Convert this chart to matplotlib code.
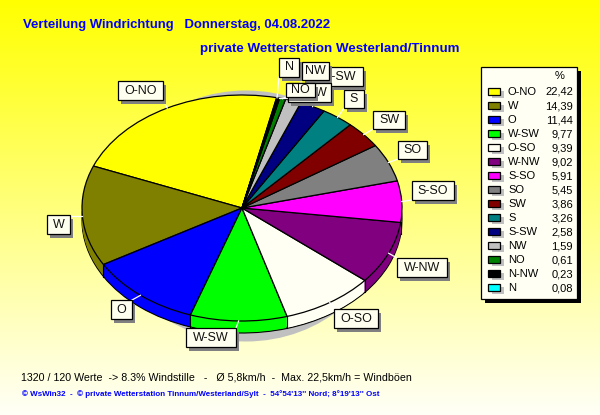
import matplotlib
matplotlib.use('Agg')
import matplotlib.pyplot as plt
from matplotlib.patches import Rectangle, Ellipse
import numpy as np

richtungen = ["O-NO", "W", "O", "W-SW", "O-SO", "W-NW", "S-SO", "SO", "SW", "S", "S-SW", "NW", "NO", "N-NW", "N"]
prozent = [22.42, 14.39, 11.44, 9.77, 9.39, 9.02, 5.91, 5.45, 3.86, 3.26, 2.58, 1.59, 0.61, 0.23, 0.08]
farben = ["#FFFF00", "#808000", "#0000FF", "#00FF00", "#FFFFF4", "#800080", "#FF00FF", "#808080",
          "#800000", "#008080", "#000080", "#C0C0C0", "#008000", "#000000", "#00FFFF"]

# label boxes in pixels: left, top, right, bottom
boxen = {
    "O-NO": (118, 81, 163, 100), "W": (47, 215, 70, 234), "O": (111, 300, 132, 319),
    "W-SW": (186, 328, 236, 347), "O-SO": (334, 309, 378, 328), "W-NW": (397, 258, 447, 277),
    "S-SO": (412, 181, 454, 200), "SO": (398, 141, 427, 159), "SW": (373, 111, 405, 129),
    "S": (344, 90, 364, 108), "S-SW": (316, 67, 363, 86), "NW": (302, 62, 329, 80),
    "N-NW": (288, 83, 331, 102), "NO": (286, 83, 315, 97), "N": (279, 58, 299, 77),
}
reihenfolge = ["O-NO", "W", "O", "W-SW", "O-SO", "W-NW", "S-SO", "SO", "SW", "S", "S-SW", "NW", "N-NW", "NO", "N"]

BREITE, HOEHE = 600, 415
CX, CY, RX, RY = 242, 208, 160, 113
TIEFE = 12
START = 77.5
BLAU = "#0000FF"
FONT = "Liberation Sans"

fig = plt.figure(figsize=(6, 4.15), dpi=100)

# background gradient
bg = fig.add_axes([0, 0, 1, 1])
verlauf = np.linspace(0, 1, HOEHE).reshape(-1, 1)
farbe = np.ones((HOEHE, 1, 3))
farbe[:, :, 2] = verlauf * 0.97
bg.imshow(farbe, aspect='auto', extent=(0, BREITE, HOEHE, 0))
bg.set_xlim(0, BREITE)
bg.set_ylim(HOEHE, 0)
bg.axis('off')

# shadow behind the pie
bg.add_patch(Ellipse((246, 216), 280, 251, facecolor="#C0C0C0", edgecolor='none'))

# pie axes: unit circle stretched to the ellipse
ax = fig.add_axes([0, 0, 1, 1], facecolor='none')
for k in range(TIEFE, 0, -1):
    kante = dict(edgecolor='black', linewidth=0.8) if k == TIEFE else dict(edgecolor='none', linewidth=0)
    ax.pie(prozent, colors=farben, startangle=START, radius=1, center=(0, -k / RY), wedgeprops=kante)
ax.pie(prozent, colors=farben, startangle=START, radius=1, center=(0, 0),
       wedgeprops=dict(edgecolor='black', linewidth=0.9))
ax.set_aspect('auto')
ax.set_xlim(-CX / RX, (BREITE - CX) / RX)
ax.set_ylim((CY - HOEHE) / RY, CY / RY)
ax.axis('off')

# overlay in pixel coordinates
ov = fig.add_axes([0, 0, 1, 1], facecolor='none')
ov.set_xlim(0, BREITE)
ov.set_ylim(HOEHE, 0)
ov.axis('off')

# vertical edges on the pie side
winkel = START + np.cumsum([0] + prozent[:-1]) / sum(prozent) * 360
for w in np.radians(winkel):
    if np.sin(w) < 0:
        x = CX + RX * np.cos(w)
        y = CY - RY * np.sin(w)
        ov.plot([x, x], [y, y + TIEFE], color='black', lw=0.8, zorder=2)

# leader lines and label boxes
mitte = START + (np.cumsum(prozent) - np.array(prozent) / 2) / sum(prozent) * 360
for name, w in zip(richtungen, np.radians(mitte)):
    x0, y0, x1, y1 = boxen[name]
    px = CX + RX * np.cos(w)
    py = CY - RY * np.sin(w)
    ov.plot([px, np.clip(px, x0, x1)], [py, np.clip(py, y0, y1)], color='white', lw=0.9, zorder=3)

for i, name in enumerate(reihenfolge):
    x0, y0, x1, y1 = boxen[name]
    z = 5 + i
    ov.add_patch(Rectangle((x0 + 3, y0 + 4), x1 - x0, y1 - y0, facecolor="#808080", edgecolor='none', zorder=z))
    ov.add_patch(Rectangle((x0, y0), x1 - x0, y1 - y0, facecolor="#FFFFF0", edgecolor='black', lw=0.9, zorder=z))
    ov.text((x0 + x1) / 2, (y0 + y1) / 2, name, ha='center', va='center', fontsize=9, family=FONT,
            color='#111111', zorder=z, clip_on=True)

# legend
ov.add_patch(Rectangle((485, 71), 96, 232, facecolor='black', edgecolor='none', zorder=30))
ov.add_patch(Rectangle((481, 67), 96, 232, facecolor="#FFFFF4", edgecolor='black', lw=0.9, zorder=31))
ov.text(560, 76, "%", ha='center', va='center', fontsize=8, family=FONT, zorder=32)
for i, (name, wert, f) in enumerate(zip(richtungen, prozent, farben)):
    y = 92 + i * 14
    ov.add_patch(Rectangle((492, y - 1), 12, 7, facecolor="#C0C0C0", edgecolor='none', zorder=32))
    ov.add_patch(Rectangle((488, y - 4), 12, 7, facecolor=f, edgecolor='black', lw=0.9, zorder=33))
    ov.text(508, y, name, ha='left', va='center', fontsize=8, family=FONT, zorder=33)
    ov.text(573, y, f"{wert:.2f}".replace('.', ','), ha='right', va='center', fontsize=8, family=FONT, zorder=33)

# titles and footer
ov.text(23, 25, "Verteilung Windrichtung   Donnerstag, 04.08.2022", color=BLAU, fontsize=9.45,
        fontweight='bold', family=FONT, ha='left', va='center')
ov.text(200, 49, "private Wetterstation Westerland/Tinnum", color=BLAU, fontsize=9.65,
        fontweight='bold', family=FONT, ha='left', va='center')
ov.text(21, 377, "1320 / 120 Werte  -> 8.3% Windstille   -   Ø 5,8km/h  -  Max. 22,5km/h = Windböen",
        color='black', fontsize=7.7, family=FONT, ha='left', va='center')
ov.text(22, 394, "© WsWin32  -  © private Wetterstation Tinnum/Westerland/Sylt  -  54°54'13'' Nord; 8°19'13'' Ost",
        color=BLAU, fontsize=5.8, fontweight='bold', family=FONT, ha='left', va='center')

fig.savefig('out.png', dpi=100)
plt.close(fig)
